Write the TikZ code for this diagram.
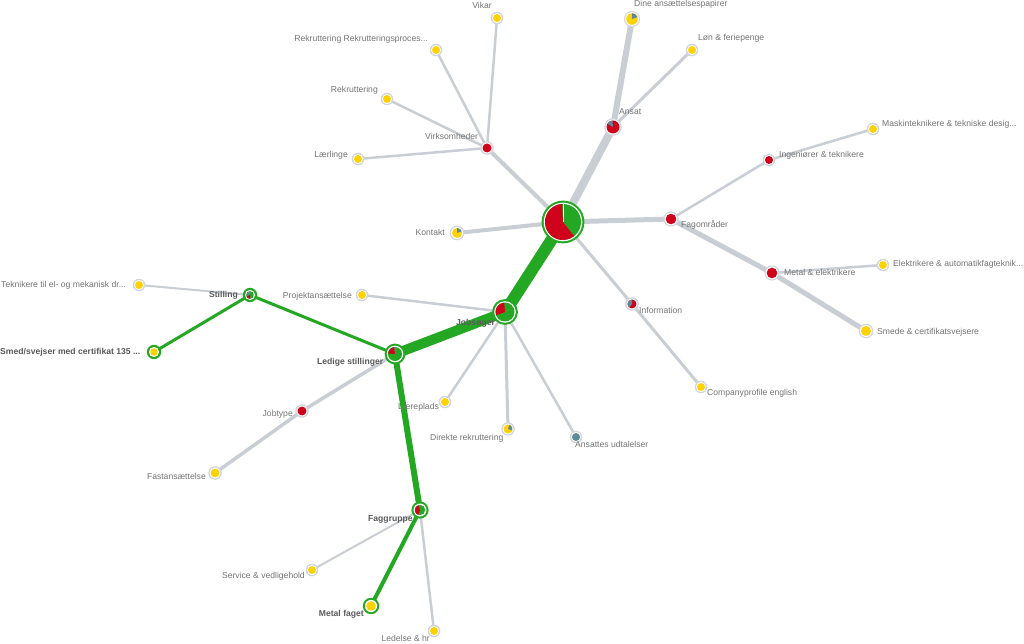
\documentclass[tikz,border=0pt]{standalone}
\usepackage{fontspec}
\setmainfont{Liberation Sans}
\definecolor{egray}{HTML}{C9CED5}
\definecolor{rgray}{HTML}{D3D7DC}
\definecolor{lgray}{HTML}{757575}
\definecolor{bgray}{HTML}{5A5A5A}
\definecolor{ggreen}{HTML}{24A824}
\definecolor{rred}{HTML}{D0021B}
\definecolor{yyellow}{HTML}{FFD200}
\definecolor{bblue}{HTML}{5B8A99}
\newcommand\nd[4]{% name, inner radius, fill, ring colour
  \fill[#4] (#1) circle ({#2+2.3});
  \fill[white] (#1) circle ({#2+1});
  \fill[#3] (#1) circle (#2);}
\newcommand\gnd[3]{% green ring node: name, pie radius, base
  \fill[ggreen] (#1) circle ({#2+3.4});
  \fill[white] (#1) circle ({#2+1.3});
  \fill[#3] (#1) circle (#2);}
\newcommand\slc[5]{% name, a1, a2, r, colour
  \fill[#5] (#1) -- ++(#2:#4) arc[start angle=#2, end angle=#3, radius=#4] -- cycle;}
\begin{document}
\begin{tikzpicture}[x=1pt,y=1pt,
  lbl/.style={inner sep=0pt, text=lgray, font=\fontsize{8.6}{10}\selectfont},
  blbl/.style={inner sep=0pt, text=bgray, font=\fontsize{8.6}{10}\selectfont\bfseries},
  ge/.style={draw=egray},
  gr/.style={draw=ggreen}]
\useasboundingbox[fill=white] (0,0) rectangle (1024,643);
% coordinates
\coordinate (root) at (563,643-222);
\coordinate (ansat) at (613,643-127);
\coordinate (dine) at (632,643-19);
\coordinate (lon) at (692,643-50);
\coordinate (virk) at (487,643-148);
\coordinate (vikar) at (497,643-18);
\coordinate (rekp) at (436,643-50);
\coordinate (rek) at (387,643-99);
\coordinate (laer) at (358,643-159);
\coordinate (kontakt) at (457,643-233);
\coordinate (fag) at (671,643-219);
\coordinate (ing) at (769,643-160);
\coordinate (mask) at (873,643-129);
\coordinate (metel) at (772,643-273);
\coordinate (elek) at (883,643-265);
\coordinate (smede) at (866,643-331);
\coordinate (info) at (632,643-304);
\coordinate (comp) at (701,643-387);
\coordinate (jobs) at (505,643-312);
\coordinate (proj) at (362,643-295);
\coordinate (laerep) at (445,643-402);
\coordinate (dir) at (508,643-429);
\coordinate (ans) at (576,643-437);
\coordinate (ledige) at (395,643-354);
\coordinate (stil) at (250,643-295);
\coordinate (tekn) at (139,643-285);
\coordinate (smed) at (154,643-352);
\coordinate (jobt) at (302,643-411);
\coordinate (fast) at (215,643-473);
\coordinate (faggr) at (420,643-510);
\coordinate (serv) at (312,643-570);
\coordinate (metf) at (371,643-606);
\coordinate (led) at (434,643-631);
% gray edges
\draw[ge,line width=8] (root) -- (ansat);
\draw[ge,line width=6] (ansat) -- (dine);
\draw[ge,line width=3] (ansat) -- (lon);
\draw[ge,line width=4] (root) -- (virk);
\draw[ge,line width=2.5] (virk) -- (vikar);
\draw[ge,line width=2.5] (virk) -- (rekp);
\draw[ge,line width=2.5] (virk) -- (rek);
\draw[ge,line width=2.5] (virk) -- (laer);
\draw[ge,line width=4] (root) -- (kontakt);
\draw[ge,line width=5] (root) -- (fag);
\draw[ge,line width=2.5] (fag) -- (ing);
\draw[ge,line width=2.5] (ing) -- (mask);
\draw[ge,line width=5] (fag) -- (metel);
\draw[ge,line width=2.5] (metel) -- (elek);
\draw[ge,line width=5] (metel) -- (smede);
\draw[ge,line width=3] (root) -- (info);
\draw[ge,line width=3] (info) -- (comp);
\draw[ge,line width=2.5] (jobs) -- (proj);
\draw[ge,line width=2.5] (jobs) -- (laerep);
\draw[ge,line width=3] (jobs) -- (dir);
\draw[ge,line width=2.5] (jobs) -- (ans);
\draw[ge,line width=2] (stil) -- (tekn);
\draw[ge,line width=3.5] (ledige) -- (jobt);
\draw[ge,line width=3.5] (jobt) -- (fast);
\draw[ge,line width=2] (faggr) -- (serv);
\draw[ge,line width=2.5] (faggr) -- (led);
% green edges
\draw[gr,line width=12] (root) -- (jobs);
\draw[gr,line width=10] (jobs) -- (ledige);
\draw[gr,line width=3] (ledige) -- (stil);
\draw[gr,line width=3] (stil) -- (smed);
\draw[gr,line width=6] (ledige) -- (faggr);
\draw[gr,line width=4] (faggr) -- (metf);
% nodes
\gnd{root}{18}{ggreen}
\slc{root}{93}{308}{18}{rred}
\draw[white,line width=0.6] (root) -- ++(90:18);
\nd{ansat}{6.5}{rred}{rgray}
\slc{ansat}{95}{150}{6.5}{bblue}
\nd{dine}{5.8}{yyellow}{rgray}
\slc{dine}{20}{90}{5.8}{bblue}
\nd{lon}{4}{yyellow}{rgray}
\nd{virk}{4.5}{rred}{rgray}
\nd{vikar}{4}{yyellow}{rgray}
\nd{rekp}{4}{yyellow}{rgray}
\nd{rek}{4}{yyellow}{rgray}
\nd{laer}{4}{yyellow}{rgray}
\nd{kontakt}{5}{yyellow}{rgray}
\slc{kontakt}{20}{90}{5}{bblue}
\nd{fag}{5.3}{rred}{rgray}
\nd{ing}{4}{rred}{rgray}
\nd{mask}{4}{yyellow}{rgray}
\nd{metel}{5.3}{rred}{rgray}
\nd{elek}{4}{yyellow}{rgray}
\nd{smede}{5}{yyellow}{rgray}
\nd{info}{4.5}{rred}{rgray}
\slc{info}{90}{230}{4.5}{bblue}
\nd{comp}{4}{yyellow}{rgray}
\gnd{jobs}{9.5}{ggreen}
\slc{jobs}{95}{200}{9.5}{rred}
\nd{proj}{4}{yyellow}{rgray}
\nd{laerep}{4}{yyellow}{rgray}
\nd{dir}{4.5}{yyellow}{rgray}
\slc{dir}{-20}{70}{4.5}{bblue}
\nd{ans}{4}{bblue}{rgray}
\gnd{ledige}{7}{ggreen}
\slc{ledige}{95}{175}{7}{rred}
\slc{ledige}{80}{95}{7}{bblue}
\gnd{stil}{3.8}{ggreen}
\slc{stil}{90}{200}{3.8}{bblue}
\slc{stil}{200}{270}{3.8}{rred}
\nd{tekn}{4}{yyellow}{rgray}
\gnd{smed}{3.8}{yyellow}
\nd{jobt}{4.5}{rred}{rgray}
\nd{fast}{4.5}{yyellow}{rgray}
\gnd{faggr}{5.2}{ggreen}
\slc{faggr}{110}{250}{5.2}{rred}
\nd{serv}{4}{yyellow}{rgray}
\gnd{metf}{4.8}{yyellow}
\nd{led}{4}{yyellow}{rgray}
% labels
\node[lbl,anchor=mid east] (l-vikar) at (492,643-6) {Vikar};
\node[lbl,anchor=mid east] (l-rekp) at (428,643-39) {Rekruttering Rekrutteringsproces...};
\node[lbl,anchor=mid east] (l-rek) at (378,643-90) {Rekruttering};
\node[lbl,anchor=mid east] (l-laer) at (348,643-155) {Lærlinge};
\node[lbl,anchor=mid west] (l-virk) at (425,643-137) {Virksomheder};
\node[lbl,anchor=mid east] (l-kontakt) at (445,643-233) {Kontakt};
\node[lbl,anchor=mid west] (l-ansat) at (619,643-112) {Ansat};
\node[lbl,anchor=mid west] (l-dine) at (634,643-4) {Dine ansættelsespapirer};
\node[lbl,anchor=mid west] (l-lon) at (698,643-38) {Løn \& feriepenge};
\node[lbl,anchor=mid west] (l-mask) at (882,643-124) {Maskinteknikere \& tekniske desig...};
\node[lbl,anchor=mid west] (l-ing) at (779,643-155) {Ingeniører \& teknikere};
\node[lbl,anchor=mid west] (l-fag) at (681,643-225) {Fagområder};
\node[lbl,anchor=mid west] (l-elek) at (893,643-264) {Elektrikere \& automatikfagteknik...};
\node[lbl,anchor=mid west] (l-metel) at (784,643-273) {Metal \& elektrikere};
\node[lbl,anchor=mid west] (l-smede) at (877,643-332) {Smede \& certifikatsvejsere};
\node[lbl,anchor=mid west] (l-info) at (639,643-311) {Information};
\node[lbl,anchor=mid west] (l-comp) at (707,643-393) {Companyprofile english};
\node[blbl,anchor=mid west] (l-jobs) at (456,643-323) {Jobsøger};
\node[lbl,anchor=mid east] (l-proj) at (352,643-296) {Projektansættelse};
\node[lbl,anchor=mid west] (l-laerep) at (398,643-407) {Læreplads};
\node[lbl,anchor=mid west] (l-dir) at (430,643-438) {Direkte rekruttering};
\node[lbl,anchor=mid west] (l-ans) at (575,643-445) {Ansattes udtalelser};
\node[blbl,anchor=mid west] (l-ledige) at (317,643-362) {Ledige stillinger};
\node[blbl,anchor=mid east] (l-stil) at (238,643-295) {Stilling};
\node[lbl,anchor=mid west] (l-tekn) at (1,643-285) {Teknikere til el- og mekanisk dr...};
\node[blbl,anchor=mid west] (l-smed) at (0,643-352) {Smed/svejser med certifikat 135 ...};
\node[lbl,anchor=mid east] (l-jobt) at (293,643-414) {Jobtype};
\node[lbl,anchor=mid east] (l-fast) at (206,643-477) {Fastansættelse};
\node[blbl,anchor=mid west] (l-faggr) at (368,643-519) {Faggruppe};
\node[lbl,anchor=mid east] (l-serv) at (305,643-576) {Service \& vedligehold};
\node[blbl,anchor=mid east] (l-metf) at (364,643-614) {Metal faget};
\node[lbl,anchor=mid east] (l-led) at (430,643-639) {Ledelse \& hr};
\end{tikzpicture}
\end{document}
